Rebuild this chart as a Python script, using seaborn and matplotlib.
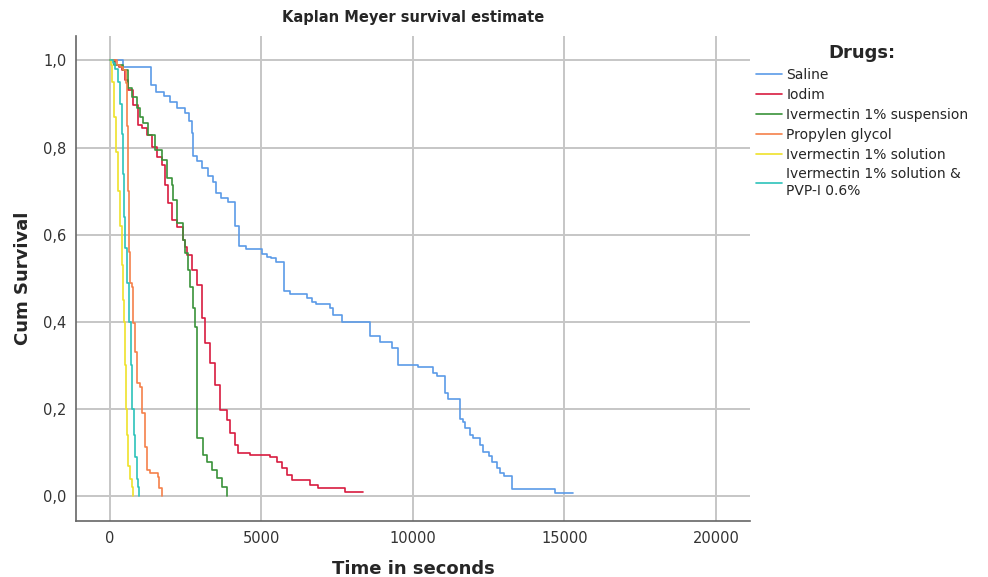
import seaborn as sns
import matplotlib.pyplot as plt
import pandas as pd

# step points: time (s) where the step happens, survival after the step
saline_t = [0, 429, 1353, 1518, 1782, 1980, 2211, 2475, 2607, 2706, 2739, 2871, 3036, 3234, 3399,
            3498, 3663, 3894, 4125, 4257, 4488, 5016, 5181, 5313, 5478, 5742, 5940, 6501, 6666,
            6798, 7260, 7359, 7656, 8580, 8910, 9306, 9504, 10164, 10659, 10791, 11055, 11154,
            11550, 11649, 11715, 11880, 11979, 12210, 12309, 12507, 12606, 12771, 12870, 13002,
            13266, 14685, 15279]
saline_s = [1.0, 0.986, 0.944, 0.928, 0.918, 0.905, 0.89, 0.88, 0.86, 0.834, 0.78, 0.768, 0.753,
            0.735, 0.72, 0.695, 0.685, 0.675, 0.62, 0.575, 0.568, 0.556, 0.549, 0.546, 0.538, 0.47,
            0.465, 0.455, 0.446, 0.44, 0.432, 0.416, 0.40, 0.368, 0.354, 0.34, 0.30, 0.296, 0.282,
            0.276, 0.236, 0.222, 0.178, 0.17, 0.156, 0.14, 0.133, 0.117, 0.101, 0.092, 0.078, 0.064,
            0.053, 0.046, 0.016, 0.007, 0.007]

iodim_t = [0, 165, 300, 396, 495, 594, 759, 924, 1056, 1221, 1386, 1551, 1716, 1815, 1914, 2046,
           2211, 2409, 2475, 2541, 2706, 2871, 3036, 3135, 3300, 3465, 3630, 3861, 3960, 4125,
           4224, 4620, 5280, 5511, 5676, 5841, 6006, 6600, 6864, 7755, 8349]
iodim_s = [1.0, 0.99, 0.985, 0.978, 0.955, 0.932, 0.898, 0.852, 0.845, 0.829, 0.801, 0.778, 0.76,
           0.714, 0.673, 0.634, 0.618, 0.588, 0.572, 0.553, 0.519, 0.485, 0.409, 0.351, 0.305,
           0.255, 0.197, 0.175, 0.145, 0.117, 0.099, 0.094, 0.09, 0.078, 0.064, 0.048, 0.037,
           0.025, 0.018, 0.009, 0.009]

susp_t = [0, 130, 429, 594, 726, 891, 990, 1089, 1254, 1485, 1716, 1881, 2046, 2079, 2211, 2409,
          2475, 2574, 2640, 2739, 2805, 2880, 3069, 3201, 3366, 3531, 3696, 3861]
susp_s = [1.0, 0.99, 0.978, 0.937, 0.916, 0.89, 0.87, 0.856, 0.829, 0.794, 0.771, 0.73, 0.714,
          0.68, 0.627, 0.588, 0.558, 0.519, 0.48, 0.432, 0.388, 0.133, 0.094, 0.078, 0.06, 0.041,
          0.021, 0.0]

glycol_t = [0, 231, 330, 429, 528, 561, 594, 627, 660, 726, 759, 825, 891, 990, 1056, 1155, 1221,
            1320, 1584, 1617, 1716]
glycol_s = [1.0, 0.99, 0.985, 0.978, 0.948, 0.85, 0.7, 0.56, 0.49, 0.48, 0.397, 0.33, 0.26, 0.25,
            0.19, 0.113, 0.06, 0.053, 0.044, 0.018, 0.0]

sol_t = [0, 33, 66, 132, 198, 264, 330, 396, 429, 462, 495, 528, 561, 594, 660, 726, 759]
sol_s = [1.0, 0.99, 0.95, 0.87, 0.79, 0.70, 0.62, 0.53, 0.45, 0.40, 0.30, 0.20, 0.14, 0.07, 0.04,
         0.02, 0.0]

pvp_t = [0, 99, 165, 264, 330, 396, 429, 462, 495, 561, 627, 693, 726, 792, 825, 891, 924, 957]
pvp_s = [1.0, 0.995, 0.98, 0.95, 0.90, 0.83, 0.74, 0.64, 0.57, 0.49, 0.40, 0.30, 0.20, 0.14, 0.09,
         0.04, 0.02, 0.0]

drugs = ['Saline', 'Iodim', 'Ivermectin 1% suspension', 'Propylen glycol',
         'Ivermectin 1% solution', 'Ivermectin 1% solution &\nPVP-I 0.6%']
colors = ['#5b9be8', '#d81b40', '#3a923a', '#f5804a', '#efe22a', '#2cc2ba']

x_ticks = [0, 5000, 10000, 15000, 20000]
y_ticks = [0.0, 0.2, 0.4, 0.6, 0.8, 1.0]
y_tick_labels = ['0,0', '0,2', '0,4', '0,6', '0,8', '1,0']

series = [(saline_t, saline_s), (iodim_t, iodim_s), (susp_t, susp_s),
          (glycol_t, glycol_s), (sol_t, sol_s), (pvp_t, pvp_s)]
frames = []
for name, (t, s) in zip(drugs, series):
    frames.append(pd.DataFrame({'time': t, 'survival': s, 'drug': name}))
df = pd.concat(frames, ignore_index=True)

sns.set_style('white')
plt.rcParams['font.family'] = ['DejaVu Sans']

fig = plt.figure(figsize=(9.88, 5.77), dpi=100)
ax = fig.add_axes([0.0769, 0.0971, 0.682, 0.8405])

sns.lineplot(data=df, x='time', y='survival', hue='drug', hue_order=drugs,
             palette=dict(zip(drugs, colors)), drawstyle='steps-post',
             estimator=None, sort=False, linewidth=1.2, ax=ax)

ax.set_xlim(-1120, 21120)
ax.set_ylim(-0.057, 1.056)
ax.set_xticks(x_ticks)
ax.set_xticklabels([str(v) for v in x_ticks])
ax.set_yticks(y_ticks)
ax.set_yticklabels(y_tick_labels)
ax.tick_params(length=0, labelsize=10.5, colors='#333333', pad=7)

ax.grid(True, color='#c6c6c6', linewidth=1.4)
ax.set_axisbelow(True)
for side in ['top', 'right']:
    ax.spines[side].set_visible(False)
for side in ['left', 'bottom']:
    ax.spines[side].set_color('#666666')
    ax.spines[side].set_linewidth(1.2)

ax.set_title('Kaplan Meyer survival estimate', fontsize=10.5, fontweight='bold', pad=10)
ax.set_xlabel('Time in seconds', fontsize=13, fontweight='bold', labelpad=10)
ax.set_ylabel('Cum Survival', fontsize=13, fontweight='bold', labelpad=8)

leg = ax.legend(title='Drugs:', loc='upper left', bbox_to_anchor=(0.758, 0.935),
                bbox_transform=fig.transFigure, frameon=False, fontsize=10,
                handlelength=1.9, handletextpad=0.3, labelspacing=0.42, borderpad=0)
leg.get_title().set_fontweight('bold')
leg.get_title().set_fontsize(13)

plt.savefig('out.png', dpi=100)
